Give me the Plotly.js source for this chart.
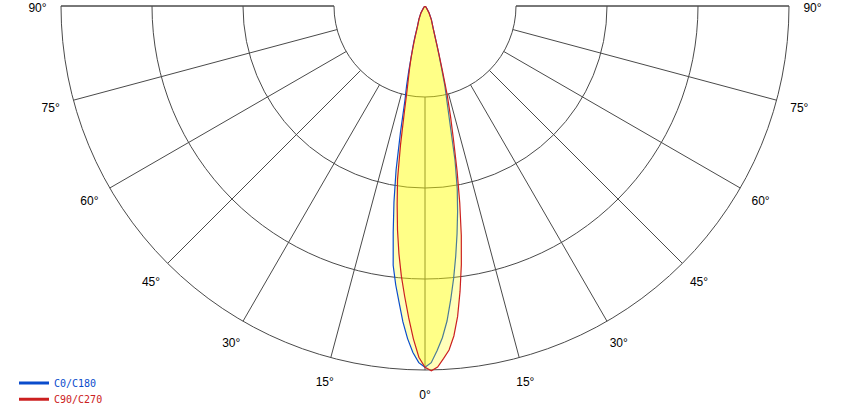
<!DOCTYPE html>
<html>
<head>
<meta charset="utf-8">
<script src="https://cdn.plot.ly/plotly-3.0.1.min.js"></script>
<style>html,body{margin:0;padding:0;background:#fff;}#chart{width:850px;height:413px;}</style>
</head>
<body>
<div id="chart"></div>
<script>
// gamma angles (degrees from nadir)
const gamma = [0,1,2,3,4,5,6,7,8,9,10,11,12,13,14,15,16,17,18,20,25,30,40,50];
// luminous intensity (cd) per C-plane
const iC0   = [3970,3920,3790,3650,3470,3240,3010,2770,2530,2290,2040,1730,1320,1070,900,690,550,440,360,260,165,90,20,0];
const iC180 = [3970,3920,3810,3660,3480,3270,3080,2870,2510,2180,1830,1410,1060,900,740,600,500,430,360,245,155,90,20,0];
const iC90  = [3970,4010,3970,3880,3790,3640,3430,3160,2870,2550,2200,1850,1510,1250,1010,750,570,450,360,265,165,90,20,0];
const iC270 = [3970,3860,3660,3430,3200,2980,2740,2480,2200,1930,1550,1190,950,805,695,595,495,410,340,245,155,90,20,0];
// grid
const ringValues = [1000,2000,3000,4000];
const angleTicks = [-90,-75,-60,-45,-30,-15,0,15,30,45,60,75,90];
const angleLabels = angleTicks.map(a => Math.abs(a) + '°');
const seriesNames = ['C0/C180','C90/C270'];
const blue = '#0a4ccc', red = '#cc2020';
const gridCol = '#4a4a4a';

// geometry (px): chart centre (425,6); grid radius 364; outer overlay radius 394 (room for labels)
const W = 850, H = 413, CX = 425, CY = 6, RG = 364, RO = 394;
const rMax = ringValues[ringValues.length - 1];
const rOuter = rMax * RO / RG;
const mL = CX - RO, mR = W - (CX + RO), mT = CY, mB = H - (CY + RO);
const pw = W - mL - mR, ph = H - mT - mB;
const gridDom = {x:[(CX - RG - mL) / pw, (CX + RG - mL) / pw], y:[(RO - RG) / ph, 1]};

// tick label placement: radius 387.5 px, nudged 2.5 px downward
const LR = 387.5, LDY = 2.5;
const labR = [], labT = [];
angleTicks.forEach(a => {
  const t = a * Math.PI / 180;
  const x = LR * Math.sin(t), y = LR * Math.cos(t) + LDY;
  labR.push(Math.hypot(x, y) * rMax / RG);
  labT.push(Math.atan2(x, y) * 180 / Math.PI);
});

function curve(left, right) {
  const th = [], r = [];
  for (let i = gamma.length - 1; i >= 1; i--) { th.push(-gamma[i]); r.push(left[i]); }
  for (let i = 0; i < gamma.length; i++) { th.push(gamma[i]); r.push(right[i]); }
  return {theta: th, r: r};
}
const cb = curve(iC180, iC0);
const cr = curve(iC270, iC90);
const fillCol = 'rgba(255,255,0,0.27)';

const traces = [
  {type:'scatterpolar', subplot:'polar', r:[ringValues[0]], theta:[0], mode:'lines', hoverinfo:'skip',
   line:{color:'rgba(0,0,0,0)', width:1}, showlegend:false},
  {type:'scatterpolar', subplot:'polar2', r:[0], theta:[0], mode:'lines', hoverinfo:'skip',
   line:{color:blue, width:3}, name:'<span style="color:'+blue+'">'+seriesNames[0]+'</span>', legend:'legend'},
  {type:'scatterpolar', subplot:'polar2', r:[0], theta:[0], mode:'lines', hoverinfo:'skip',
   line:{color:red, width:3}, name:'<span style="color:'+red+'">'+seriesNames[1]+'</span>', legend:'legend2'},
  {type:'scatterpolar', subplot:'polar2', r:cb.r, theta:cb.theta, mode:'lines', fill:'toself',
   fillcolor:fillCol, line:{color:blue, width:1.2}, showlegend:false, hoverinfo:'skip'},
  {type:'scatterpolar', subplot:'polar2', r:cr.r, theta:cr.theta, mode:'lines', fill:'toself',
   fillcolor:fillCol, line:{color:red, width:1.2}, showlegend:false, hoverinfo:'skip'},
  {type:'scatterpolar', subplot:'polar2', r:labR, theta:labT,
   mode:'text', text:angleLabels, textposition:'middle center', cliponaxis:false,
   textfont:{family:'Liberation Sans, Arial, sans-serif', size:12, color:'#000'},
   showlegend:false, hoverinfo:'skip'}
];

const layout = {
  width:W, height:H,
  margin:{l:mL, r:mR, t:mT, b:mB, autoexpand:false},
  paper_bgcolor:'#ffffff',
  font:{family:'Liberation Sans, Arial, sans-serif', size:12, color:'#000'},
  polar:{
    domain:gridDom, sector:[180,360], hole:0.25, bgcolor:'#ffffff',
    radialaxis:{type:'linear', range:[1000,rMax], tickvals:ringValues, showticklabels:false, ticks:'',
      showline:false, gridcolor:gridCol, gridwidth:1},
    angularaxis:{type:'linear', thetaunit:'degrees', rotation:-90, direction:'counterclockwise',
      tickmode:'array', tickvals:angleTicks.map(a => a + 360), ticktext:angleLabels,
      showgrid:true, gridcolor:gridCol, gridwidth:1, showline:true, linecolor:gridCol, linewidth:1,
      ticks:'', showticklabels:false}
  },
  polar2:{
    domain:{x:[0,1], y:[0,1]}, sector:[180,360], bgcolor:'rgba(0,0,0,0)',
    radialaxis:{type:'linear', range:[0,rOuter], visible:false},
    angularaxis:{type:'linear', thetaunit:'degrees', rotation:-90, direction:'counterclockwise', visible:false}
  },
  legend:{x:(14-mL)/pw, xanchor:'left', y:(H-mB-383)/ph, yanchor:'middle', bgcolor:'rgba(0,0,0,0)',
    font:{family:'DejaVu Sans Mono, monospace', size:10}},
  legend2:{x:(14-mL)/pw, xanchor:'left', y:(H-mB-399.3)/ph, yanchor:'middle', bgcolor:'rgba(0,0,0,0)',
    font:{family:'DejaVu Sans Mono, monospace', size:10}},
  showlegend:true
};
Plotly.newPlot('chart', traces, layout, {staticPlot:true, displayModeBar:false});
</script>
</body>
</html>
